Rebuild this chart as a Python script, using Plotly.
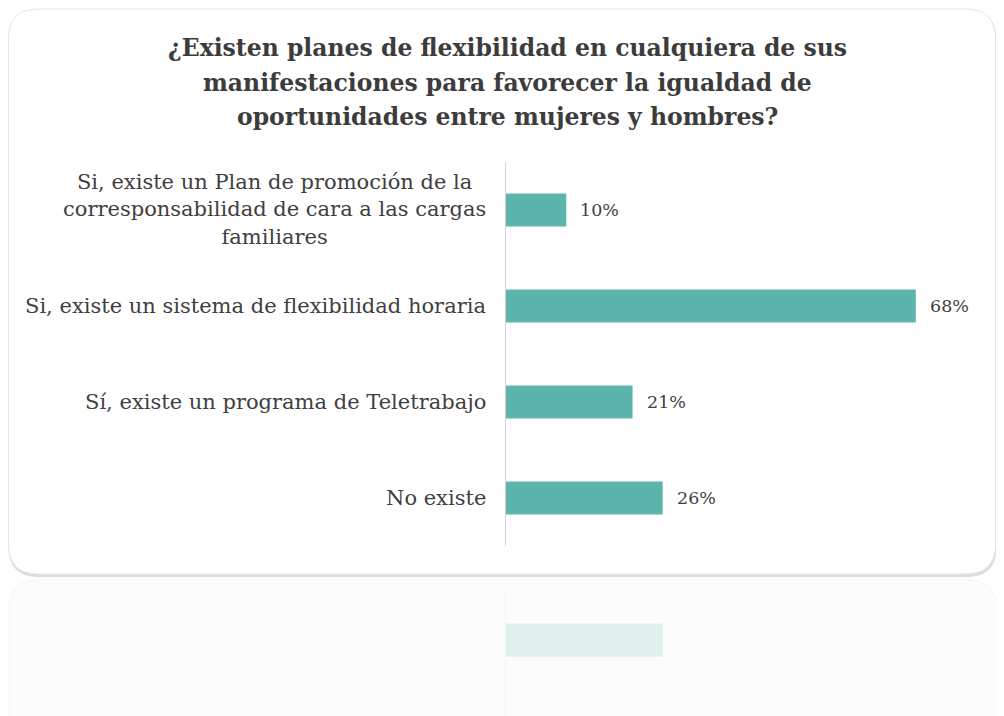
import plotly.graph_objects as go

categories = [
    "Si, existe un Plan de promoción de la<br>corresponsabilidad de cara a las cargas<br>familiares",
    "Si, existe un sistema de flexibilidad horaria",
    "Sí, existe un programa de Teletrabajo",
    "No existe",
]
values = [10, 68, 21, 26]
value_labels = ["10%", "68%", "21%", "26%"]
title_lines = [
    "¿Existen planes de flexibilidad en cualquiera de sus",
    "manifestaciones para favorecer la igualdad de",
    "oportunidades entre mujeres y hombres?",
]

# the page body adds an 8px margin; lay out in reference pixel coordinates
OFF = 8
W, H = 1004 - OFF, 716 - OFF
BAR = "#5bb5ad"
TXT = "#404040"
SERIF = "DejaVu Serif"

def px(x):
    return (x - OFF) / W

def py(y):
    return 1 - (y - OFF) / H

cat_keys = ["c0", "c1", "c2", "c3"]

fig = go.Figure()
fig.add_trace(go.Bar(
    x=values, y=cat_keys, orientation="h",
    marker=dict(color=BAR, line=dict(width=0)),
    xaxis="x", yaxis="y", hoverinfo="skip", showlegend=False,
))
# faint reflection of the last bar
fig.add_trace(go.Bar(
    x=[values[3]], y=[cat_keys[3]], orientation="h",
    marker=dict(color=BAR, line=dict(width=0)), opacity=0.17,
    xaxis="x2", yaxis="y2", hoverinfo="skip", showlegend=False,
))

annotations = []
for c, v, lab in zip(cat_keys, values, value_labels):
    annotations.append(dict(x=v, y=c, xref="x", yref="y", text=lab,
                            showarrow=False, xanchor="left", xshift=12,
                            font=dict(family=SERIF, size=17.5, color=TXT)))
for c, name in zip(cat_keys, categories):
    annotations.append(dict(x=px(488), y=c, xref="paper", yref="y", text=name,
                            showarrow=False, xanchor="right", align="center",
                            font=dict(family=SERIF, size=21, color=TXT)))
for line, yc in zip(title_lines, [48, 83, 117]):
    annotations.append(dict(x=px(507), y=py(yc), xref="paper", yref="paper",
                            text="<b>" + line + "</b>", showarrow=False,
                            xanchor="center", yanchor="middle",
                            font=dict(family=SERIF, size=23.5, color="#3c3c3c")))

def rrect(x0, y0, x1, y1, r):
    X0, X1 = px(x0), px(x1)
    Y0, Y1 = py(y0), py(y1)
    rx, ry = r / W, r / H
    return (f"M {X0+rx},{Y0} L {X1-rx},{Y0} Q {X1},{Y0} {X1},{Y0-ry} "
            f"L {X1},{Y1+ry} Q {X1},{Y1} {X1-rx},{Y1} L {X0+rx},{Y1} "
            f"Q {X0},{Y1} {X0},{Y1+ry} L {X0},{Y0-ry} Q {X0},{Y0} {X0+rx},{Y0} Z")

shapes = [
    # reflection card
    dict(type="path", xref="paper", yref="paper", path=rrect(9, 580, 997, 760, 30),
         fillcolor="#fcfcfc", line=dict(color="#f5f5f5", width=1), layer="below"),
    # shadow
    dict(type="path", xref="paper", yref="paper", path=rrect(8.5, 10, 996.5, 577, 30),
         fillcolor="#dcdcdc", line=dict(width=0), layer="below"),
    # card
    dict(type="path", xref="paper", yref="paper", path=rrect(8.5, 9, 995.5, 574, 30),
         fillcolor="#ffffff", line=dict(color="#e6e6e6", width=1), layer="below"),
]

fig.update_layout(
    width=W, height=H,
    margin=dict(l=0, r=0, t=0, b=0),
    paper_bgcolor="#ffffff", plot_bgcolor="rgba(0,0,0,0)",
    bargap=0.655,
    xaxis=dict(domain=[px(506), px(958)], range=[0, 75], visible=False),
    yaxis=dict(domain=[py(546), py(162)], type="category",
               categoryorder="array", categoryarray=cat_keys,
               autorange="reversed", showticklabels=False, ticks="",
               showgrid=False, zeroline=False,
               showline=True, linecolor="#d4d4d4", linewidth=1),
    xaxis2=dict(domain=[px(506), px(958)], range=[0, 75], visible=False,
                anchor="y2"),
    yaxis2=dict(domain=[py(716), py(592)], type="category",
                categoryorder="array", categoryarray=[cat_keys[3]],
                range=[0.79, -0.5], showticklabels=False, ticks="",
                showgrid=False, zeroline=False, anchor="x2",
                showline=True, linecolor="#f2f2f2", linewidth=1),
    annotations=annotations,
    shapes=shapes,
    showlegend=False,
)

fig.write_html("out.html")
